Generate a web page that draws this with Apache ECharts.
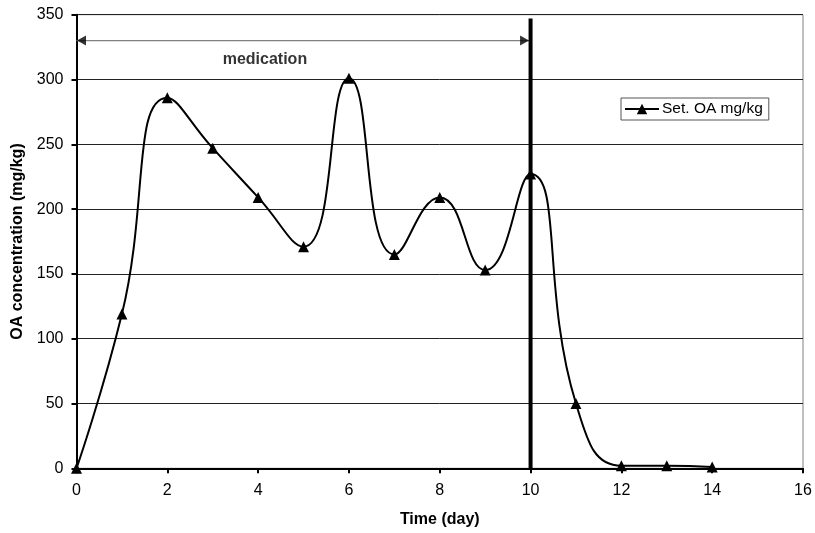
<!DOCTYPE html>
<html><head><meta charset="utf-8">
<script src="https://cdn.jsdelivr.net/npm/echarts@6/dist/echarts.min.js"></script>
<style>html,body{margin:0;padding:0;background:#fff}#c{width:815px;height:533px}</style>
</head><body><div id="c"></div>
<script>
const days = [0,1,2,3,4,5,6,7,8,9,10,11,12,13,14];
const oaValues = [0,119,286,247,209,171,301,165,209,153,227,50,2,2,1];
const seriesName = 'Set. OA mg/kg';
const medicationStart = 0, medicationEnd = 10, medicationLevel = 330;
const medicationLabel = 'medication';
const medicationLabelPos = [4.15, 315];
const stopLineTop = 347;

const chart = echarts.init(document.getElementById('c'));
const font = 'Liberation Sans, Arial, sans-serif';
chart.setOption({
  animation:false,
  grid:{left:76.5,right:12,top:14.7,bottom:64.7,show:true,borderColor:'#808080',borderWidth:1},
  legend:{data:[{name:seriesName}],left:621,top:98,itemWidth:34,itemHeight:13,itemGap:2,
    padding:[3,6,3,3],borderColor:'#555',borderWidth:1,textStyle:{fontFamily:font,fontSize:15.5,color:'#000',padding:[0,0,0,-2]}},
  xAxis:{type:'value',min:0,max:16,interval:2,name:'Time (day)',nameLocation:'middle',nameGap:43,
    nameTextStyle:{fontFamily:font,fontWeight:'bold',fontSize:16,color:'#000'},
    axisLine:{lineStyle:{color:'#000',width:2}},axisTick:{length:5,lineStyle:{color:'#000',width:2}},
    axisLabel:{fontFamily:font,fontSize:16,color:'#000',margin:14},splitLine:{show:false}},
  yAxis:{type:'value',min:0,max:350,interval:50,name:'OA concentration (mg/kg)',nameLocation:'middle',nameGap:50,
    nameTextStyle:{fontFamily:font,fontWeight:'bold',fontSize:16,color:'#000'},
    axisLine:{show:true,lineStyle:{color:'#000',width:2}},axisTick:{show:true,length:5,lineStyle:{color:'#000',width:2}},
    axisLabel:{fontFamily:font,fontSize:16,color:'#000',margin:13},
    splitLine:{lineStyle:{color:'#222',width:1}}},
  series:[
    {name:seriesName,type:'line',smooth:0.5,data:days.map((d,i)=>[d,oaValues[i]]),
     symbol:'triangle',symbolSize:11,itemStyle:{color:'#000'},lineStyle:{color:'#000',width:2},z:5},
    {type:'line',data:[[medicationEnd,0],[medicationEnd,stopLineTop]],symbol:'none',
     lineStyle:{color:'#000',width:4},silent:true,z:6},
    {type:'line',data:[[medicationStart,medicationLevel],[medicationEnd,medicationLevel]],symbol:'none',
     lineStyle:{color:'#808080',width:1.2},silent:true,z:4},
    {type:'scatter',silent:true,z:4,symbol:'triangle',symbolSize:[10,9],itemStyle:{color:'#000'},
     data:[
       {value:[medicationStart,medicationLevel],symbolRotate:90,symbolOffset:[5,0]},
       {value:[medicationEnd,medicationLevel],symbolRotate:-90,symbolOffset:[-6,0]}
     ]},
    {type:'scatter',data:[medicationLabelPos],symbolSize:0,silent:true,
     label:{show:true,position:'inside',formatter:medicationLabel,fontFamily:font,fontWeight:'bold',fontSize:16,color:'#000'}}
  ]
});
</script></body></html>
